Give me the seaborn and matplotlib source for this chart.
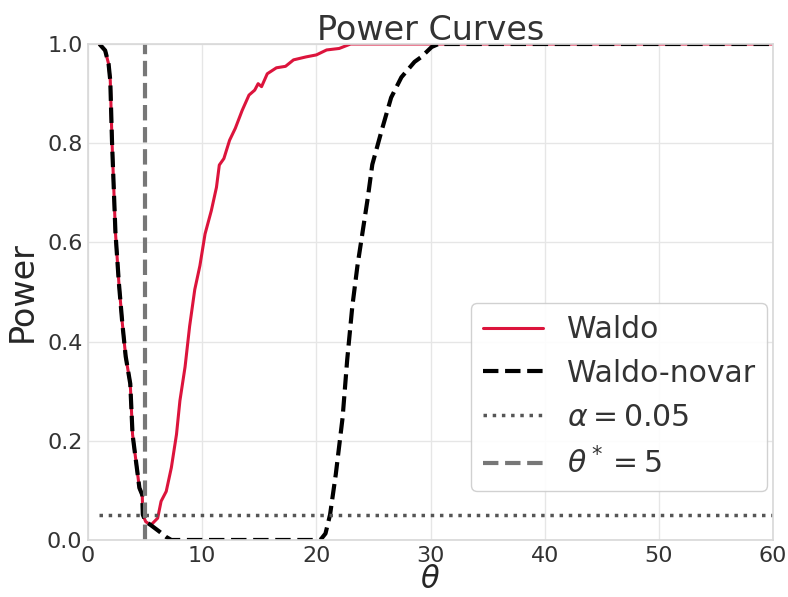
import matplotlib
matplotlib.use("Agg")
import matplotlib.pyplot as plt
import seaborn as sns

# Power of the Waldo test (with conditional variance) and the no-variance variant
theta_waldo = [1.0, 1.5, 1.8, 1.95, 2.1, 2.4, 2.7, 3.0, 3.3, 3.7, 3.9, 4.2, 4.5,
               4.75, 4.8, 5.05, 5.5, 6.1, 6.4, 6.85, 7.3, 7.75, 8.05, 8.5, 8.9,
               9.35, 9.8, 10.25, 10.8, 11.25, 11.5, 11.9, 12.4, 12.9, 13.5, 14.1,
               14.6, 14.9, 15.2, 15.7, 16.5, 17.3, 18.0, 19.1, 20.0, 20.9, 22.0,
               23.0, 60.0]
power_waldo = [1.0, 0.987, 0.960, 0.926, 0.804, 0.621, 0.519, 0.438, 0.370, 0.315,
               0.213, 0.159, 0.105, 0.091, 0.051, 0.037, 0.030, 0.044, 0.078, 0.098,
               0.146, 0.213, 0.281, 0.349, 0.431, 0.505, 0.553, 0.617, 0.664, 0.711,
               0.756, 0.769, 0.806, 0.830, 0.866, 0.897, 0.907, 0.920, 0.914, 0.940,
               0.952, 0.955, 0.968, 0.974, 0.978, 0.988, 0.991, 1.0, 1.0]

theta_novar = [1.0, 1.5, 1.8, 1.95, 2.1, 2.4, 2.7, 3.0, 3.3, 3.7, 3.9, 4.2, 4.5,
               4.75, 4.8, 5.05, 5.5, 6.25, 6.85, 7.3, 20.35, 20.8, 21.2, 21.7,
               22.3, 22.7, 23.15, 23.6, 24.05, 24.5, 24.9, 25.7, 26.55, 27.45,
               28.6, 29.2, 30.1, 30.7, 60.0]
power_novar = [1.0, 0.987, 0.960, 0.926, 0.804, 0.621, 0.519, 0.438, 0.370, 0.315,
               0.213, 0.159, 0.105, 0.091, 0.051, 0.037, 0.030, 0.017, 0.006, 0.0,
               0.0, 0.013, 0.051, 0.132, 0.247, 0.363, 0.471, 0.553, 0.621, 0.689,
               0.757, 0.824, 0.892, 0.933, 0.964, 0.974, 0.994, 1.0, 1.0]

alpha_level = 0.05
theta_star = 5
theta_range = (1.0, 60.0)

x_ticks = [0, 10, 20, 30, 40, 50, 60]
y_ticks = [0.0, 0.2, 0.4, 0.6, 0.8, 1.0]

sns.set_theme(style="whitegrid")
plt.rcParams.update({
    "axes.edgecolor": ".85",
    "grid.color": ".9",
    "text.color": ".2",
    "xtick.color": ".2",
    "ytick.color": ".2",
    "axes.labelcolor": ".15",
})

fig = plt.figure(figsize=(7.88, 5.97), dpi=100)
ax = fig.add_axes([0.1117, 0.0955, 0.981 - 0.1117, 0.9263 - 0.0955])

sns.lineplot(x=theta_waldo, y=power_waldo, ax=ax, color="crimson", lw=2.2,
             estimator=None, sort=False, label="Waldo")
sns.lineplot(x=theta_novar, y=power_novar, ax=ax, color="black", lw=3.0,
             linestyle="--", estimator=None, sort=False, label="Waldo-novar")
ax.hlines(alpha_level, theta_range[0], theta_range[1], colors="#555555",
          linestyles=":", lw=2.5, label=r"$\alpha=0.05$")
ax.axvline(theta_star, color="#777777", linestyle="--", lw=3.0,
           label=r"$\theta^*=5$")

ax.set_xlim(0, 60)
ax.set_ylim(0, 1)
ax.set_xticks(x_ticks)
ax.set_yticks(y_ticks)
ax.set_yticklabels([f"{v:.1f}" for v in y_ticks])
ax.tick_params(labelsize=16, length=2, color=".85", pad=2)

ax.set_title("Power Curves", fontsize=24, pad=3)
ax.set_xlabel(r"$\theta$", fontsize=22, labelpad=-0.5)
ax.set_ylabel("Power", fontsize=24, labelpad=6)

ax.legend(loc="center right", bbox_to_anchor=(1.0, 0.288), fontsize=21.5,
          borderaxespad=0.2, framealpha=0.9)

fig.savefig("out.png", dpi=100)
